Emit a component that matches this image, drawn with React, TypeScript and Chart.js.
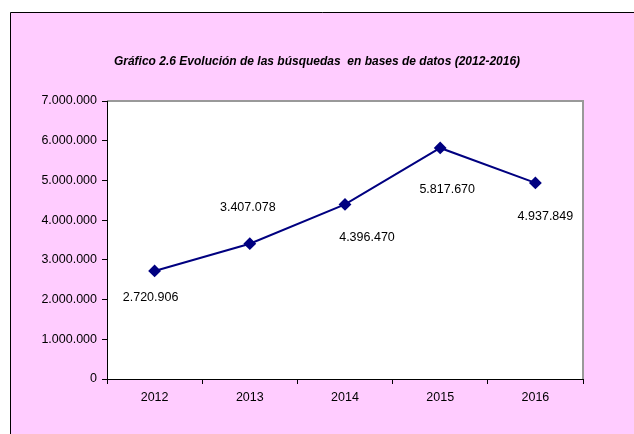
import React, { useEffect, useRef } from "react";
import { Chart, registerables } from "chart.js";

Chart.register(...registerables);

const categories = ["2012", "2013", "2014", "2015", "2016"];
const searches = [2720906, 3407078, 4396470, 5817670, 4937849];
const yTicks = [0, 1000000, 2000000, 3000000, 4000000, 5000000, 6000000, 7000000];
const titleText = "Gráfico 2.6 Evolución de las búsquedas  en bases de datos (2012-2016)";

const fmt = (v: number) => {
  const s = Math.round(v).toString();
  return s.replace(/\B(?=(\d{3})+(?!\d))/g, ".");
};

const FONT = "'Liberation Sans', Arial, sans-serif";

const framePlugin = {
  id: "frame",
  beforeDraw(chart: any) {
    const { ctx, width, height, chartArea } = chart;
    ctx.save();
    ctx.fillStyle = "#ffffff";
    ctx.fillRect(0, 0, width, height);
    ctx.fillStyle = "#FFCCFF";
    ctx.fillRect(11, 13, width - 11, height - 13);
    ctx.strokeStyle = "#000000";
    ctx.lineWidth = 1;
    ctx.beginPath();
    ctx.moveTo(10.5, height);
    ctx.lineTo(10.5, 12.5);
    ctx.lineTo(width, 12.5);
    ctx.stroke();
    ctx.fillStyle = "#ffffff";
    ctx.fillRect(chartArea.left, chartArea.top, chartArea.right - chartArea.left, chartArea.bottom - chartArea.top);
    ctx.strokeStyle = "#999999";
    ctx.lineWidth = 2;
    ctx.beginPath();
    ctx.moveTo(chartArea.left, chartArea.top);
    ctx.lineTo(chartArea.right, chartArea.top);
    ctx.lineTo(chartArea.right, chartArea.bottom);
    ctx.stroke();
    ctx.restore();
  },
};

const labelPlugin = {
  id: "pointLabels",
  afterDatasetsDraw(chart: any, _args: any, opts: any) {
    const { ctx } = chart;
    const meta = chart.getDatasetMeta(0);
    const ds = chart.data.datasets[0];
    ctx.save();
    ctx.fillStyle = "#000000";
    ctx.font = `12.5px ${FONT}`;
    ctx.textAlign = "center";
    ctx.textBaseline = "middle";
    meta.data.forEach((pt: any, i: number) => {
      const off = (opts.offsets && opts.offsets[i]) || [0, 0];
      ctx.fillText(fmt(ds.data[i]), pt.x + off[0], pt.y + off[1]);
    });
    ctx.restore();
  },
};

export default function App() {
  const ref = useRef<HTMLCanvasElement | null>(null);
  useEffect(() => {
    document.body.style.margin = "0";
    if (!ref.current) return;
    const chart = new Chart(ref.current, {
      type: "line",
      data: {
        labels: categories,
        datasets: [
          {
            data: searches,
            borderColor: "#000080",
            backgroundColor: "#000080",
            borderWidth: 2,
            pointStyle: "rectRot",
            pointRadius: 5,
            pointBackgroundColor: "#000080",
            pointBorderColor: "#000080",
            tension: 0,
            yAxisID: "y",
          },
        ],
      },
      options: {
        responsive: false,
        animation: false,
        layout: { padding: { left: 0, right: 0, top: 0, bottom: 0 } },
        plugins: {
          legend: { display: false },
          tooltip: { enabled: false },
          title: {
            display: true,
            text: titleText,
            color: "#000000",
            font: { family: FONT, size: 12, weight: "bold", style: "italic" },
            padding: { top: 54, bottom: 32.6 },
          },
          pointLabels: {
            offsets: [
              [-4, 27],
              [-2, -36],
              [22, 33],
              [7, 42],
              [10, 34],
            ],
          },
        } as any,
        scales: {
          x: {
            offset: true,
            grid: { offset: true, drawOnChartArea: false, drawTicks: true, tickLength: 5, color: "#000000" },
            border: { display: true, color: "#000000", width: 1 },
            ticks: { color: "#000000", font: { family: FONT, size: 12.5 }, padding: 6 },
            afterFit(scale: any) {
              scale.height = 55;
            },
          },
          y: {
            position: "left",
            min: 0,
            max: 7000000,
            afterBuildTicks(scale: any) {
              scale.ticks = yTicks.map((v) => ({ value: v }));
            },
            grid: { drawOnChartArea: false, drawTicks: true, tickLength: 5, color: "#000000" },
            border: { display: true, color: "#000000", width: 1 },
            ticks: {
              color: "#000000",
              font: { family: FONT, size: 12.5 },
              padding: 5,
              callback: (v: any) => fmt(Number(v)),
            },
            afterFit(scale: any) {
              scale.width = 107;
            },
          },
          yRight: {
            position: "right",
            display: true,
            min: 0,
            max: 7000000,
            grid: { display: false, drawTicks: false },
            border: { display: false },
            ticks: { display: false },
            afterFit(scale: any) {
              scale.width = 51;
            },
          },
        },
      },
      plugins: [framePlugin, labelPlugin],
    });
    return () => chart.destroy();
  }, []);
  return <canvas ref={ref} width={634} height={434} style={{ display: "block", width: 634, height: 434 }} />;
}
